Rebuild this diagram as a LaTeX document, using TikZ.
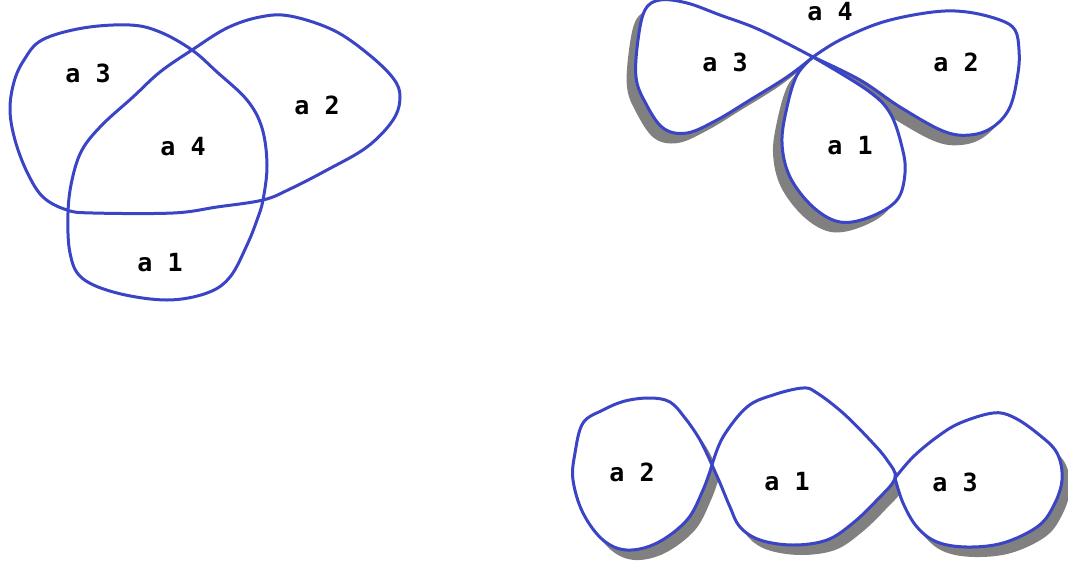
\documentclass[tikz,border=0pt]{standalone}
\usepackage{fontspec}
\newfontfamily\lblfont{DejaVu Sans Mono}
\definecolor{vblue}{RGB}{58,68,196}
\definecolor{shadowgray}{RGB}{128,128,128}
\tikzset{
  loopline/.style={draw=vblue, line width=3pt, line join=round, line cap=round},
  lbl/.style={font=\lblfont\bfseries\fontsize{25}{25}\selectfont, inner sep=0pt, text=black},
  smoothplot/.style={smooth, tension=0.6}
}
\begin{document}
\begin{tikzpicture}[x=1pt,y=-1pt]
\useasboundingbox (0,0) rectangle (1068,560);
\fill[white] (0,0) rectangle (1068,560);

% ---------- top-left: three overlapping loops (one curve)
\draw[loopline] plot[smooth cycle, tension=0.6] coordinates {
 (10,110) (14,82) (24,60) (42,40) (83,28) (130,25) (160,32) (192,50) (217,72) (247,100)
 (262,128) (267,165) (263,200) (257,220) (247,245) (230,277) (207,293) (167,300)
 (117,293) (82,278) (70,253) (68,213) (72,180) (82,150) (102,125) (133,97) (160,72)
 (192,50) (227,28) (260,17) (290,16) (333,30) (367,53) (393,78) (400,97) (393,120)
 (367,147) (327,170) (290,189) (263,200) (217,207) (173,213) (93,213) (67,210)
 (43,197) (27,172) (15,140)};
\node[lbl] (tl3) at (88,73) {a 3};
\node[lbl] (tl4) at (183,147) {a 4};
\node[lbl] (tl2) at (317,105) {a 2};
\node[lbl] (tl1) at (160,263) {a 1};

% ---------- top-right: flower with shadow
\def\flowerA{(813,57) (760,30) (720,15) (687,3) (660,0) (645,10) (638,40) (636,77) (645,102) (663,128) (687,133) (717,120) (750,100) (787,77) (813,57)}
\def\flowerB{(813,57) (840,40) (883,22) (933,12) (967,12) (1000,20) (1015,30) (1019,50) (1018,73) (1010,107) (993,127) (970,135) (943,131) (900,107) (860,80) (813,57)}
\def\flowerC{(813,57) (797,75) (787,107) (782,143) (790,177) (813,207) (840,222) (870,217) (897,200) (905,173) (902,147) (890,113) (867,90) (813,57)}
\begin{scope}[shift={(-9,10)}]
  \fill[shadowgray] plot[smoothplot] coordinates {\flowerA} -- cycle;
  \fill[shadowgray] plot[smoothplot] coordinates {\flowerB} -- cycle;
  \fill[shadowgray] plot[smoothplot] coordinates {\flowerC} -- cycle;
\end{scope}
\fill[white] plot[smoothplot] coordinates {\flowerA} -- cycle;
\fill[white] plot[smoothplot] coordinates {\flowerB} -- cycle;
\fill[white] plot[smoothplot] coordinates {\flowerC} -- cycle;
\draw[loopline] plot[smoothplot] coordinates {\flowerA} -- cycle;
\draw[loopline] plot[smoothplot] coordinates {\flowerB} -- cycle;
\draw[loopline] plot[smoothplot] coordinates {\flowerC} -- cycle;
\node[lbl] (tr4) at (830,12) {a 4};
\node[lbl] (tr3) at (725,62) {a 3};
\node[lbl] (tr2) at (956,62) {a 2};
\node[lbl] (tr1) at (850,146) {a 1};

% ---------- bottom-right: chain of three loops with shadow
\def\chainA{(712,465) (700,440) (685,418) (670,402) (650,398) (625,401) (603,410) (583,423) (575,453) (573,480) (583,513) (603,540) (627,550) (657,543) (687,520) (703,490) (712,465)}
\def\chainB{(712,465) (723,437) (747,407) (773,395) (803,388) (817,393) (843,413) (870,440) (887,460) (895,478) (877,500) (853,523) (827,540) (793,545) (760,540) (740,527) (730,507) (720,483) (712,465)}
\def\chainC{(895,478) (913,457) (937,437) (960,423) (993,413) (1013,417) (1037,433) (1057,453) (1062,480) (1053,507) (1037,527) (1003,543) (967,547) (937,542) (917,527) (903,503) (895,478)}
\begin{scope}[shift={(8,10)}]
  \fill[shadowgray] plot[smoothplot] coordinates {\chainA} -- cycle;
  \fill[shadowgray] plot[smoothplot] coordinates {\chainB} -- cycle;
  \fill[shadowgray] plot[smoothplot] coordinates {\chainC} -- cycle;
\end{scope}
\fill[white] plot[smoothplot] coordinates {\chainA} -- cycle;
\fill[white] plot[smoothplot] coordinates {\chainB} -- cycle;
\fill[white] plot[smoothplot] coordinates {\chainC} -- cycle;
\draw[loopline] plot[smoothplot] coordinates {\chainA} -- cycle;
\draw[loopline] plot[smoothplot] coordinates {\chainB} -- cycle;
\draw[loopline] plot[smoothplot] coordinates {\chainC} -- cycle;
\node[lbl] (br2) at (632,472) {a 2};
\node[lbl] (br1) at (787,482) {a 1};
\node[lbl] (br3) at (955,482) {a 3};
\end{tikzpicture}
\end{document}
